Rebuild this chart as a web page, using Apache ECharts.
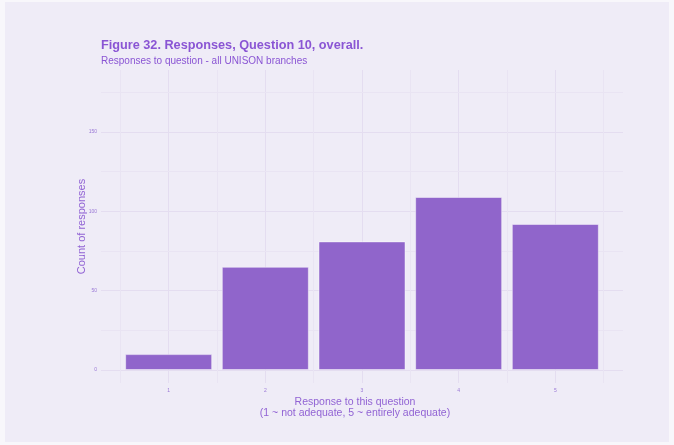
<!DOCTYPE html>
<html>
<head>
<meta charset="utf-8">
<script src="https://cdn.jsdelivr.net/npm/echarts@6/dist/echarts.min.js"></script>
<style>
  html, body { margin: 0; padding: 0; background: #f8f7fb; width: 674px; height: 445px; overflow: hidden; }
  #chart { position: absolute; left: 5px; top: 2px; width: 664px; height: 440px; }
</style>
</head>
<body>
<div id="chart"></div>
<script>
// ---- data ----
const categories = [1, 2, 3, 4, 5];
const counts = [10, 65, 81, 109, 92];
const yTickLabels = [0, 50, 100, 150];
const yMinorLines = [25, 75, 125, 175];
const xMinorLines = [0.5, 1.5, 2.5, 3.5, 4.5, 5.5];

const titleText = 'Figure 32. Responses, Question 10, overall.';
const subtitleText = 'Responses to question - all UNISON branches';
const yTitle = 'Count of responses';
const xTitle = 'Response to this question\n(1 ~ not adequate, 5 ~ entirely adequate)';

const purple = '#8a55d4';
const barColor = '#9065cb';

const chart = echarts.init(document.getElementById('chart'), null, { renderer: 'canvas' });

const minorMarks = []
  .concat(yMinorLines.map(v => ({ yAxis: v })))
  .concat(xMinorLines.map(v => ({ xAxis: v })));

chart.setOption({
  backgroundColor: '#efecf7',
  animation: false,
  title: {
    text: titleText,
    subtext: subtitleText,
    left: 91,
    top: 32,
    itemGap: 4,
    textStyle: { fontFamily: 'Liberation Sans', fontSize: 12.7, fontWeight: 'bold', color: purple },
    subtextStyle: { fontFamily: 'Liberation Sans', fontSize: 10, color: purple }
  },
  grid: { left: 96, top: 68, width: 522, height: 313, containLabel: false },
  xAxis: {
    type: 'value',
    min: 0.3,
    max: 5.7,
    name: xTitle,
    nameLocation: 'middle',
    nameGap: 13,
    nameMoveOverlap: false,
    nameTextStyle: {
      fontFamily: 'Liberation Sans', fontSize: 10.5, color: '#9163d4',
      lineHeight: 11.7, verticalAlign: 'top', padding: [0, 14, 0, 0]
    },
    axisLine: { show: false },
    axisTick: { show: false, customValues: categories },
    axisLabel: {
      customValues: categories,
      fontFamily: 'Liberation Sans', fontSize: 5, color: '#9a78d6', margin: 5
    },
    splitLine: { show: true, lineStyle: { color: '#e4ddf0', width: 1 } }
  },
  yAxis: {
    type: 'value',
    min: -8.2,
    max: 189,
    name: yTitle,
    nameLocation: 'middle',
    nameGap: 14,
    nameMoveOverlap: false,
    nameTextStyle: { fontFamily: 'Liberation Sans', fontSize: 11, color: '#9163d4' },
    axisLine: { show: false },
    axisTick: { show: false, customValues: yTickLabels },
    axisLabel: {
      customValues: yTickLabels,
      fontFamily: 'Liberation Sans', fontSize: 5, color: '#9a78d6', margin: 4
    },
    splitLine: { show: true, lineStyle: { color: '#e4ddf0', width: 1 } }
  },
  series: [{
    type: 'bar',
    data: categories.map((c, i) => [c, counts[i]]),
    barWidth: 87,
    itemStyle: { color: barColor, borderColor: 'rgba(255,255,255,0.45)', borderWidth: 1 },
    markLine: {
      silent: true,
      symbol: 'none',
      label: { show: false },
      lineStyle: { color: '#e9e4f3', width: 1, type: 'solid' },
      data: minorMarks,
      z: 0
    },
    z: 2
  }]
});
</script>
</body>
</html>
